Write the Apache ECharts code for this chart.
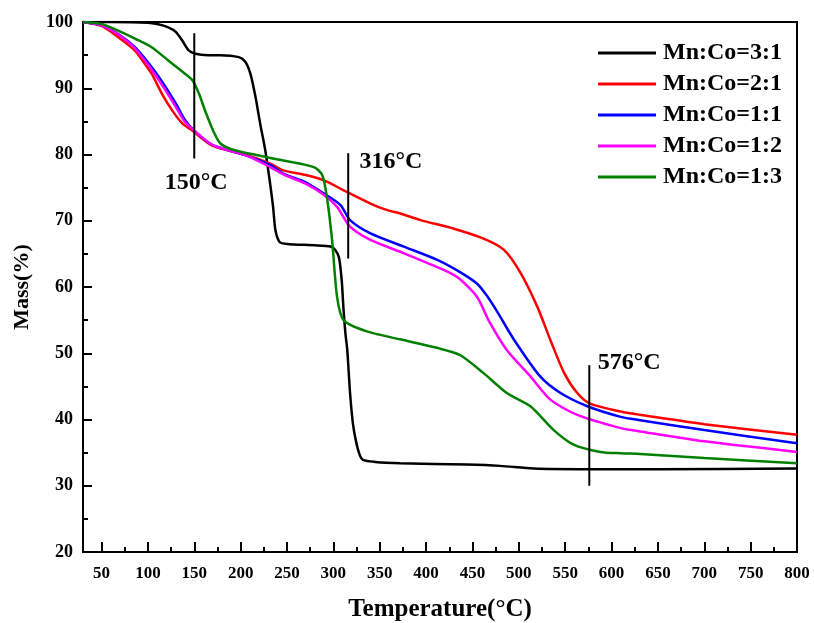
<!DOCTYPE html>
<html>
<head>
<meta charset="utf-8">
<script src="https://cdn.jsdelivr.net/npm/echarts@6/dist/echarts.min.js"></script>
<style>html,body{margin:0;padding:0;background:#fff}#c{width:814px;height:623px}</style>
</head>
<body>
<div id="c"></div>
<script>
// ---- data ----
const seriesNames = ['Mn:Co=3:1', 'Mn:Co=2:1', 'Mn:Co=1:1', 'Mn:Co=1:2', 'Mn:Co=1:3'];

const temp31 = [30, 60, 100, 110, 122, 130, 137, 144, 151, 165, 178, 198, 205, 210.5, 216, 221, 226.6, 231.3, 235, 237.5, 242, 250, 280, 297, 302, 306, 309, 311, 313, 315, 318, 321, 324, 328, 332, 345, 372, 444, 480, 516, 574, 650, 800];
const mass31 = [100, 100, 99.9, 99.7, 99.2, 98.5, 97.2, 95.7, 95.2, 95.0, 95.0, 94.7, 94.0, 92.2, 88.7, 84.7, 80.6, 76.1, 72.1, 68.6, 66.8, 66.5, 66.3, 66.1, 65.6, 64.5, 61, 56.5, 53, 50.5, 44, 39.5, 37, 34.8, 33.9, 33.6, 33.4, 33.2, 33.0, 32.6, 32.5, 32.5, 32.6];

const temp21 = [30, 50, 68, 86, 95, 104, 115, 126, 137, 148, 170, 207, 232, 246, 270, 290, 311, 340, 358, 372, 394, 430, 462, 484, 502, 520, 534, 549, 563, 577, 610, 631, 700, 800];
const mass21 = [100, 99.4, 97.7, 95.7, 94.0, 92.2, 89.2, 86.7, 84.7, 83.6, 81.3, 79.9, 78.6, 77.6, 76.9, 76.1, 74.6, 72.6, 71.6, 71.1, 70.1, 68.8, 67.3, 65.6, 62.1, 57, 52, 47, 44, 42.4, 41.2, 40.7, 39.3, 37.7];

const temp11 = [30, 50, 68, 86, 104, 119, 130, 140, 150, 170, 207, 232, 246, 270, 290, 307.5, 318, 340, 376, 412, 433.5, 455, 466, 477, 495, 523, 545, 574, 610, 631, 700, 800];
const mass11 = [100, 99.5, 98.2, 96.2, 93.2, 90.2, 87.7, 85.2, 83.6, 81.4, 79.8, 78.4, 77.1, 75.8, 74.1, 72.4, 70.1, 68.1, 66.1, 64.1, 62.5, 60.5, 58.6, 56.2, 52, 46.5, 44, 42, 40.4, 39.9, 38.4, 36.4];

const temp12 = [30, 50, 68, 86, 104, 119, 130, 140, 150, 170, 207, 232, 246, 270, 290, 304, 318, 340, 376, 412, 433.5, 455, 468, 487, 512.5, 534, 563, 610, 631, 700, 800];
const mass12 = [100, 99.5, 98.1, 96.0, 92.8, 89.7, 87.2, 84.9, 83.6, 81.4, 79.8, 78.1, 77.0, 75.6, 73.9, 72.1, 69.1, 67.1, 65.1, 63.0, 61.5, 58.5, 54.8, 50.5, 46.5, 43, 40.7, 38.7, 38.2, 36.7, 35.1];

const temp13 = [30, 50, 68, 86, 104, 122, 140, 148, 155, 162, 171, 178, 190, 210.5, 246, 279, 288, 293, 298.6, 304, 311, 336, 372, 415, 437, 462, 487, 512.5, 537.7, 559, 588, 610, 631, 700, 800];
const mass13 = [100, 99.7, 98.7, 97.5, 96.2, 94.2, 92.2, 91.2, 89.2, 86.5, 83.4, 81.7, 80.8, 80.1, 79.1, 78.1, 76.9, 73.6, 67.1, 58.5, 55, 53.3, 52.1, 50.7, 49.7, 47, 44, 42, 38.4, 36.2, 35.1, 34.9, 34.8, 34.2, 33.4];

const xTickLabels = [50, 100, 150, 200, 250, 300, 350, 400, 450, 500, 550, 600, 650, 700, 750, 800];
const xMinorTicks = [75, 125, 175, 225, 275, 325, 375, 425, 475, 525, 575, 625, 675, 725, 775];

const annotTemps = [150, 316, 576];
const annotTop = [98.3, 80.2, 48.2];
const annotBottom = [79.4, 64.3, 30];
const annotLabels = ['150°C', '316°C', '576°C'];
const annotLabelX = [152, 362, 619];
const annotLabelY = [75.7, 78.9, 48.5];

// ---- chart ----
const FONT = "'Liberation Serif', 'Times New Roman', serif";
const colors = ['#000000', '#ff0000', '#0000ff', '#ff00ff', '#008000'];
const temps = [temp31, temp21, temp11, temp12, temp13];
const masses = [mass31, mass21, mass11, mass12, mass13];
const zip = (a, b) => a.map((v, i) => [v, b[i]]);

const series = seriesNames.map((name, i) => ({
  name, type: 'line', xAxisIndex: 0, yAxisIndex: 0,
  data: zip(temps[i], masses[i]),
  showSymbol: false, symbol: 'none',
  smooth: 0.25,
  lineStyle: { color: colors[i], width: 2.5 },
  itemStyle: { color: colors[i] },
  z: 2 + i
}));

annotTemps.forEach((t, i) => {
  series.push({
    name: 'ann' + i, type: 'line', xAxisIndex: 0, yAxisIndex: 0,
    data: [[t, annotTop[i]], [t, annotBottom[i]]],
    showSymbol: false, symbol: 'none', silent: true,
    lineStyle: { color: '#000', width: 2 }, z: 10
  });
});
series.push({
  name: 'annLabels', type: 'scatter', xAxisIndex: 0, yAxisIndex: 0,
  data: annotLabels.map((l, i) => ({ value: [annotLabelX[i], annotLabelY[i]], name: l })),
  symbolSize: 0, silent: true,
  itemStyle: { opacity: 1, color: '#000' },
  label: { show: true, position: 'inside', formatter: p => p.name, opacity: 1,
    color: '#000', fontFamily: FONT, fontWeight: 'bold', fontSize: 24 },
  z: 11
});

const chart = echarts.init(document.getElementById('c'), null, { renderer: 'canvas' });
chart.setOption({
  animation: false,
  backgroundColor: '#fff',
  grid: { left: 83, right: 17, top: 22, bottom: 71, outerBoundsMode: 'none', containLabel: false,
    show: true, borderColor: '#000', borderWidth: 2, backgroundColor: 'transparent' },
  legend: {
    orient: 'vertical', right: 32, top: 41, padding: 0,
    data: seriesNames, icon: 'rect', itemWidth: 58, itemHeight: 3, itemGap: 7,
    textStyle: { fontFamily: FONT, fontWeight: 'bold', fontSize: 24, lineHeight: 24, color: '#000', padding: [0, 0, 0, 2] }
  },
  xAxis: [{
    type: 'value', min: 30, max: 800,
    name: 'Temperature(°C)', nameLocation: 'middle', nameGap: 45,
    nameTextStyle: { fontFamily: FONT, fontWeight: 'bold', fontSize: 25, color: '#000' },
    axisLine: { show: true, onZero: false, lineStyle: { color: '#000', width: 2 } },
    axisTick: { show: true, inside: true, length: 10, customValues: xTickLabels, lineStyle: { color: '#000', width: 2 } },
    axisLabel: { customValues: xTickLabels, margin: 13, fontFamily: FONT, fontWeight: 'bold', fontSize: 17, color: '#000' },
    splitLine: { show: false }
  }, {
    type: 'value', min: 30, max: 800, position: 'bottom', offset: 0,
    axisLine: { show: false },
    axisTick: { show: true, inside: true, length: 5, customValues: xMinorTicks, lineStyle: { color: '#000', width: 2 } },
    axisLabel: { show: false, customValues: xMinorTicks },
    splitLine: { show: false }
  }],
  yAxis: {
    type: 'value', min: 20, max: 100, interval: 10,
    name: 'Mass(%)', nameLocation: 'middle', nameGap: 50, nameRotate: 90,
    nameTextStyle: { fontFamily: FONT, fontWeight: 'bold', fontSize: 22, color: '#000' },
    axisLine: { show: true, onZero: false, lineStyle: { color: '#000', width: 2 } },
    axisTick: { show: true, inside: true, length: 9, lineStyle: { color: '#000', width: 2 } },
    minorTick: { show: true, splitNumber: 2, length: 5, lineStyle: { color: '#000', width: 2 } },
    axisLabel: { margin: 10, fontFamily: FONT, fontWeight: 'bold', fontSize: 18, color: '#000' },
    splitLine: { show: false }, minorSplitLine: { show: false }
  },
  series
});
</script>
</body>
</html>
